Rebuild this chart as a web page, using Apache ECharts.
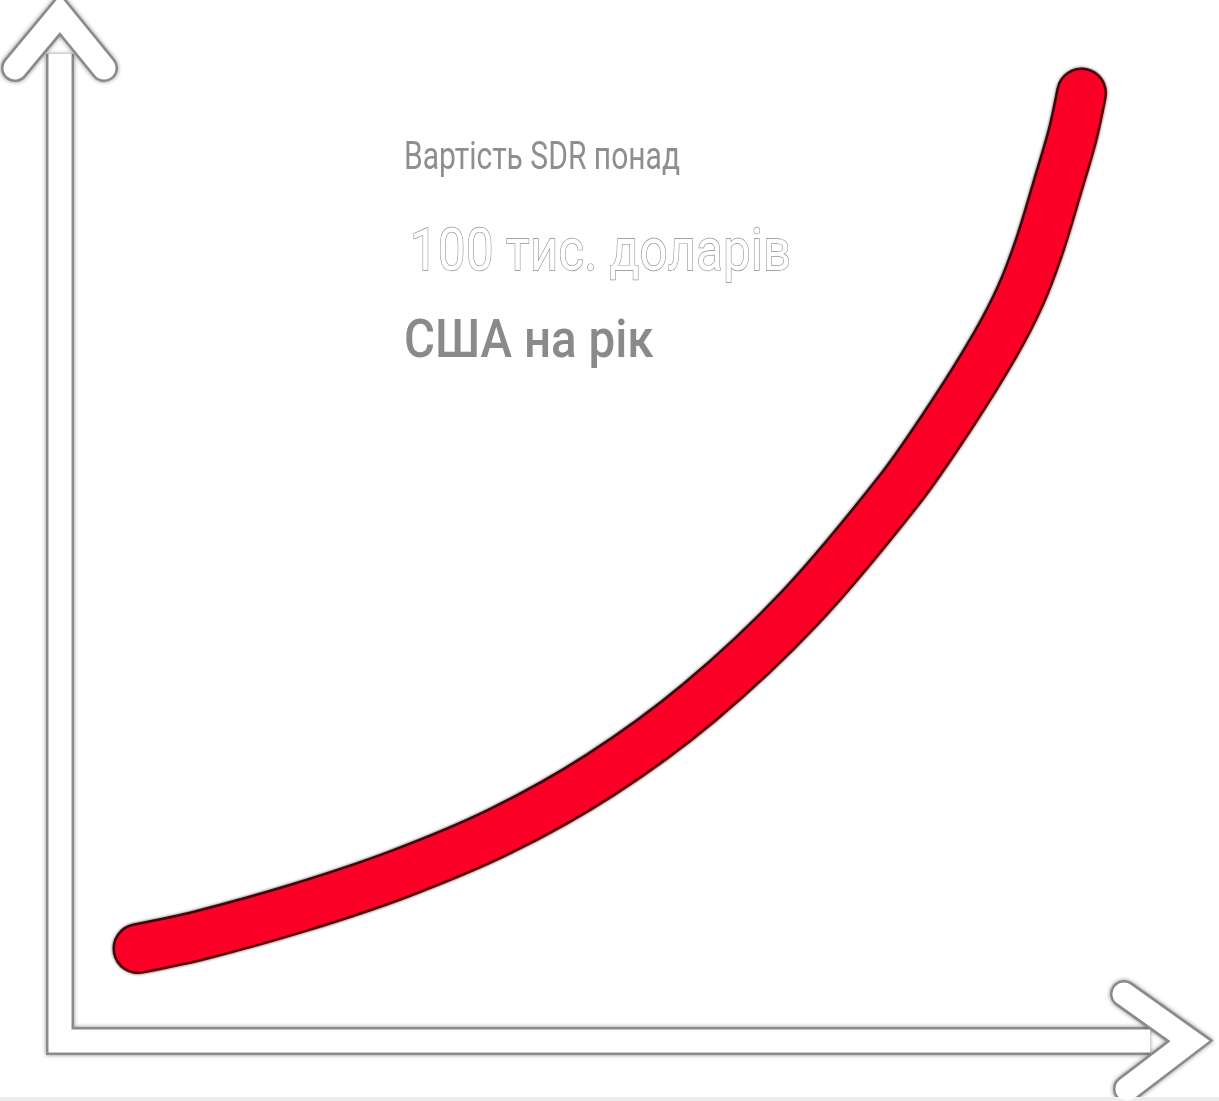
<!DOCTYPE html>
<html>
<head>
<meta charset="utf-8">
<script src="https://cdn.jsdelivr.net/npm/echarts@6/dist/echarts.min.js"></script>
<style>
  html, body { margin: 0; padding: 0; background: #fff; }
  #main { width: 1219px; height: 1101px; }
</style>
</head>
<body>
<div id="main"></div>
<script>
// curve (axis units 0..100)
const curveX = [6.9, 12.4, 21.2, 30.1, 38.9, 47.8, 56.6, 65.5, 74.3, 78.8, 82.7, 85.0, 86.7, 88.3, 89.6, 90.4];
const curveY = [9.0, 10.3, 13.0, 16.3, 20.4, 25.9, 33.0, 42.2, 53.7, 60.8, 67.7, 72.6, 77.5, 83.3, 88.2, 92.3];

// caption lines
const captionLines = ['Вартість SDR понад', '100 тис. доларів', 'США на рік'];

const curveData = curveX.map((x, i) => [x, curveY[i]]);

const chart = echarts.init(document.getElementById('main'));

const option = {
  backgroundColor: '#fff',
  animation: false,
  grid: { left: 60, right: 29, top: 14, bottom: 60 },
  xAxis: { type: 'value', min: 0, max: 100, show: false },
  yAxis: { type: 'value', min: 0, max: 100, show: false },
  series: [
    {
      // dark rim of the stroke
      type: 'line',
      data: curveData,
      smooth: 0.3,
      showSymbol: false,
      silent: true,
      z: 5,
      lineStyle: { color: '#4a0008', width: 51, cap: 'round', join: 'round', shadowBlur: 3, shadowColor: 'rgba(60,0,8,0.8)' }
    },
    {
      type: 'line',
      data: curveData,
      smooth: 0.3,
      showSymbol: false,
      silent: true,
      z: 6,
      lineStyle: { color: '#fc0027', width: 46, cap: 'round', join: 'round' }
    }
  ]
};

chart.setOption(option);

// hand-drawn looking axes, placed from the grid's own scale
const origin = chart.convertToPixel({ gridIndex: 0 }, [0, 0]);
const topEnd = chart.convertToPixel({ gridIndex: 0 }, [0, 100]);
const rightEnd = chart.convertToPixel({ gridIndex: 0 }, [100, 0]);

function axisShapes(width, stroke, z, shadow) {
  const style = {
    stroke: stroke, lineWidth: width, fill: null,
    lineCap: 'round', lineJoin: 'miter'
  };
  if (shadow) {
    style.shadowBlur = 4;
    style.shadowColor = 'rgba(0,0,0,0.45)';
  }
  return [
    {
      type: 'polyline', z: z, silent: true,
      shape: { points: [[origin[0], topEnd[1] + 40], [origin[0], origin[1]], [rightEnd[0] - 40, origin[1]]] },
      style: Object.assign({}, style, { lineCap: 'butt' })
    },
    {
      type: 'polyline', z: z, silent: true,
      shape: { points: [[topEnd[0] - 45, topEnd[1] + 54], topEnd, [topEnd[0] + 44, topEnd[1] + 54]] },
      style: style
    },
    {
      type: 'polyline', z: z, silent: true,
      shape: { points: [[rightEnd[0] - 66, rightEnd[1] - 47], rightEnd, [rightEnd[0] - 63, rightEnd[1] + 48]] },
      style: style
    }
  ];
}

const elements = []
  .concat(axisShapes(28, '#8a8a8a', 1, true))
  .concat(axisShapes(23, '#ffffff', 2, false));

elements.push({
  type: 'rect', z: 1, silent: true,
  shape: { x: 0, y: 1097, width: 1219, height: 4 },
  style: { fill: '#ececec' }
});

elements.push(
  {
    type: 'text', z: 10, x: 404, y: 159, scaleX: 0.79, silent: true,
    style: {
      text: captionLines[0], fill: '#8e8e8e',
      font: '400 38px Roboto', align: 'left', verticalAlign: 'middle'
    }
  },
  {
    type: 'text', z: 10, x: 410, y: 255, scaleX: 0.84, silent: true,
    style: {
      text: captionLines[1], fill: '#ffffff', stroke: '#8a8a8a', lineWidth: 1.3,
      font: '400 59px Roboto', align: 'left', verticalAlign: 'middle'
    }
  },
  {
    type: 'text', z: 10, x: 404, y: 343, scaleX: 0.88, silent: true,
    style: {
      text: captionLines[2], fill: '#8a8a8a',
      font: '500 54px Roboto', align: 'left', verticalAlign: 'middle'
    }
  }
);

chart.setOption({ graphic: { elements: elements } });
</script>
</body>
</html>
